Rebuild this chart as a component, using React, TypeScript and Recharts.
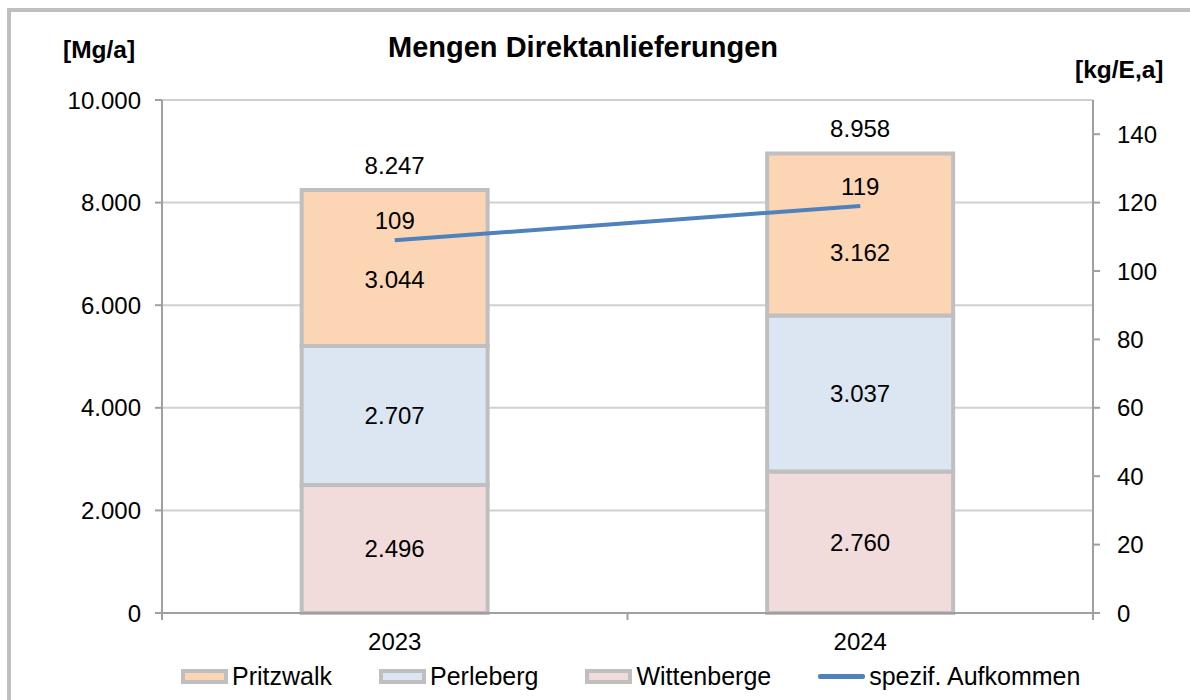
import React from "react";
import {
  ComposedChart,
  Bar,
  Line,
  XAxis,
  YAxis,
  CartesianGrid,
  LabelList,
} from "recharts";

const years = ["2023", "2024"];
const wittenberge = [2496, 2760];
const perleberg = [2707, 3037];
const pritzwalk = [3044, 3162];
const totals = [8247, 8958];
const spezAufkommen = [109, 119];
const leftTicks = [0, 2000, 4000, 6000, 8000, 10000];
const rightTicks = [0, 20, 40, 60, 80, 100, 120, 140];

const data = years.map((y, i) => ({
  year: y,
  Wittenberge: wittenberge[i],
  Perleberg: perleberg[i],
  Pritzwalk: pritzwalk[i],
  total: totals[i],
  spez: spezAufkommen[i],
}));

const FONT = '"Liberation Sans", Arial, sans-serif';
const C_PRITZ = "#FCD5B5";
const C_PERLE = "#DCE6F2";
const C_WITT = "#F2DCDB";
const C_LINE = "#4F81BD";
const C_BORDER = "#BFBFBF";
const C_AXIS = "#A0A0A0";
const X_TICK_MARGIN = 20;

const fmt = (v: any) =>
  String(v).replace(/\B(?=(\d{3})+(?!\d))/g, ".");

const PRITZ_DY = [11, 18];

const PritzLabel = (props: any) => {
  const { x, y, width, height, value, index } = props;
  return (
    <text
      x={x + width / 2}
      y={y + height / 2 + (PRITZ_DY[index] || 0)}
      textAnchor="middle"
      dominantBaseline="central"
      fontSize={24}
      fontFamily={FONT}
      fill="#000"
    >
      {fmt(value)}
    </text>
  );
};

const TotalLabel = (props: any) => {
  const { x, y, width, index } = props;
  return (
    <text
      x={x + width / 2}
      y={y - 16}
      textAnchor="middle"
      fontSize={24}
      fontFamily={FONT}
      fill="#000"
    >
      {fmt(totals[index])}
    </text>
  );
};

const CategoryTick = (props: any) => {
  const { x, y, payload, index, visibleTicksCount } = props;
  const half = payload && payload.offset ? payload.offset : 0;
  const axisY = y - X_TICK_MARGIN;
  const isLast = index === (visibleTicksCount || years.length) - 1;
  return (
    <g>
      <line
        x1={x - half}
        x2={x - half}
        y1={axisY}
        y2={axisY + 7}
        stroke={C_AXIS}
        strokeWidth={2}
      />
      {isLast && (
        <line
          x1={x + half}
          x2={x + half}
          y1={axisY}
          y2={axisY + 7}
          stroke={C_AXIS}
          strokeWidth={2}
        />
      )}
      <text
        x={x}
        y={y}
        dy="0.71em"
        textAnchor="middle"
        fontSize={24}
        fontFamily={FONT}
        fill="#000"
      >
        {payload.value}
      </text>
    </g>
  );
};

const legendItems = [
  { name: "Pritzwalk", color: C_PRITZ, type: "rect" },
  { name: "Perleberg", color: C_PERLE, type: "rect" },
  { name: "Wittenberge", color: C_WITT, type: "rect" },
  { name: "spezif. Aufkommen", color: C_LINE, type: "line" },
];

export default function App() {
  const tickStyle = { fontSize: 24, fill: "#000", fontFamily: FONT };
  return (
    <div
      style={{
        position: "absolute",
        left: 0,
        top: 0,
        width: 1190,
        height: 700,
        overflow: "hidden",
        fontFamily: FONT,
        background: "#fff",
      }}
    >
      <div
        style={{
          position: "absolute",
          left: 7,
          top: 8,
          width: 1183,
          height: 692,
          boxSizing: "border-box",
          borderTop: `4px solid ${C_BORDER}`,
          borderLeft: `4px solid ${C_BORDER}`,
        }}
      />
      <div style={{ position: "absolute", left: 0, top: 0 }}>
        <ComposedChart
          width={1190}
          height={700}
          data={data}
          margin={{ top: 100, right: 17, bottom: 0, left: 62 }}
          barCategoryGap="30%"
        >
          <CartesianGrid
            yAxisId="left"
            vertical={false}
            stroke="#D0D0D0"
            strokeWidth={2}
          />
          <XAxis
            dataKey="year"
            height={87}
            axisLine={{ stroke: C_AXIS, strokeWidth: 2 }}
            tickLine={false}
            tickSize={0}
            tickMargin={X_TICK_MARGIN}
            tick={<CategoryTick />}
            interval={0}
          />
          <YAxis
            yAxisId="left"
            width={100}
            domain={[0, 10000]}
            ticks={leftTicks}
            tickFormatter={fmt}
            tickSize={7}
            tickMargin={14}
            tick={tickStyle}
            axisLine={{ stroke: C_AXIS, strokeWidth: 2 }}
            tickLine={{ stroke: C_AXIS, strokeWidth: 2 }}
          />
          <YAxis
            yAxisId="right"
            orientation="right"
            width={80}
            domain={[0, 150]}
            ticks={rightTicks}
            tickSize={7}
            tickMargin={17}
            tick={tickStyle}
            axisLine={{ stroke: C_AXIS, strokeWidth: 2 }}
            tickLine={{ stroke: C_AXIS, strokeWidth: 2 }}
          />
          <Bar
            yAxisId="left"
            dataKey="Wittenberge"
            stackId="s"
            fill={C_WITT}
            stroke={C_BORDER}
            strokeWidth={4}
            isAnimationActive={false}
          >
            <LabelList
              dataKey="Wittenberge"
              position="center"
              formatter={fmt}
              style={{ fontSize: 24, fill: "#000", fontFamily: FONT }}
            />
          </Bar>
          <Bar
            yAxisId="left"
            dataKey="Perleberg"
            stackId="s"
            fill={C_PERLE}
            stroke={C_BORDER}
            strokeWidth={4}
            isAnimationActive={false}
          >
            <LabelList
              dataKey="Perleberg"
              position="center"
              formatter={fmt}
              style={{ fontSize: 24, fill: "#000", fontFamily: FONT }}
            />
          </Bar>
          <Bar
            yAxisId="left"
            dataKey="Pritzwalk"
            stackId="s"
            fill={C_PRITZ}
            stroke={C_BORDER}
            strokeWidth={4}
            isAnimationActive={false}
          >
            <LabelList dataKey="Pritzwalk" content={<PritzLabel />} />
            <LabelList dataKey="total" content={<TotalLabel />} />
          </Bar>
          <Line
            yAxisId="right"
            dataKey="spez"
            stroke={C_LINE}
            strokeWidth={4}
            dot={false}
            activeDot={false}
            isAnimationActive={false}
          >
            <LabelList
              dataKey="spez"
              position="top"
              offset={11}
              style={{ fontSize: 24, fill: "#000", fontFamily: FONT }}
            />
          </Line>
        </ComposedChart>
      </div>
      <div
        style={{
          position: "absolute",
          left: 0,
          width: 1190,
          top: 31,
          textAlign: "center",
          fontSize: 29,
          lineHeight: "32px",
          fontWeight: "bold",
          color: "#000",
        }}
      >
        <span style={{ position: "relative", left: -12 }}>
          Mengen Direktanlieferungen
        </span>
      </div>
      <div
        style={{
          position: "absolute",
          left: 63,
          top: 36,
          fontSize: 24.5,
          lineHeight: "28px",
          fontWeight: "bold",
          color: "#000",
        }}
      >
        [Mg/a]
      </div>
      <div
        style={{
          position: "absolute",
          left: 1075,
          top: 56,
          fontSize: 24.5,
          lineHeight: "28px",
          fontWeight: "bold",
          color: "#000",
        }}
      >
        [kg/E,a]
      </div>
      <div
        style={{
          position: "absolute",
          left: 181,
          top: 662,
          height: 28,
          display: "flex",
          alignItems: "center",
          gap: 47,
          fontSize: 25,
          lineHeight: "28px",
          color: "#000",
          whiteSpace: "nowrap",
        }}
      >
        {legendItems.map((it) => (
          <div
            key={it.name}
            style={{ display: "flex", alignItems: "center" }}
          >
            {it.type === "rect" ? (
              <div
                style={{
                  width: 47,
                  height: 15,
                  boxSizing: "border-box",
                  background: it.color,
                  border: `4px solid ${C_BORDER}`,
                  marginRight: 4,
                }}
              />
            ) : (
              <div
                style={{
                  width: 47,
                  height: 5,
                  background: it.color,
                  borderRadius: 2,
                  marginRight: 4,
                }}
              />
            )}
            <span>{it.name}</span>
          </div>
        ))}
      </div>
    </div>
  );
}
